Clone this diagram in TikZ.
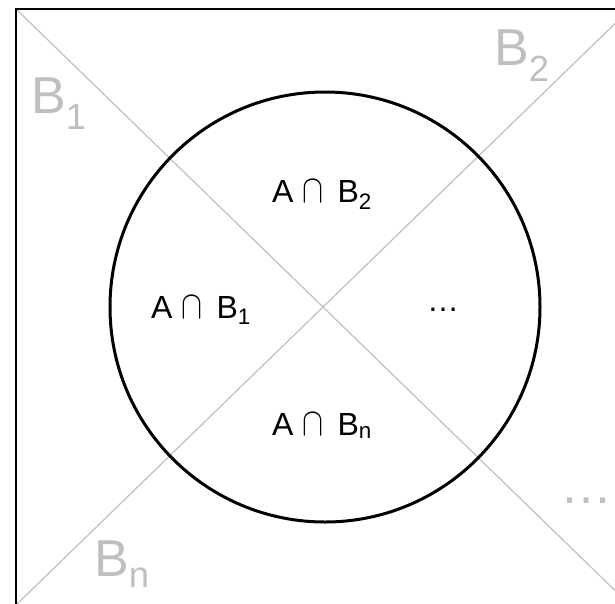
\documentclass[tikz,border=0pt]{standalone}
\usepackage{fontspec}
\setmainfont{Liberation Sans}
\newcommand{\capsym}{\hspace{9pt}\resizebox{21pt}{22pt}{$\cap$}\hspace{14pt}}
\begin{document}
\begin{tikzpicture}[x=1pt, y=-1pt,
        part/.style={black!25, line width=1.2pt},
        setA/.style={circle, draw, line width=3pt, minimum size=430pt, inner sep=0pt},
        inlabel/.style={anchor=base, inner sep=0pt, font=\fontsize{32}{38}\selectfont},
        outlabel/.style={anchor=base, inner sep=0pt, text=black!25, font=\fontsize{52}{60}\selectfont}
        ]
      \useasboundingbox (0,0) rectangle (615,603);
      \clip (0,0) rectangle (615,603);
      \coordinate (tl) at (16,9);
      \coordinate (tr) at (630,9);
      \coordinate (bl) at (16,605);
      \coordinate (br) at (630,605);
      \draw[part] (tl) -- (br);
      \draw[part] (bl) -- (tr);
      \draw[line width=2pt] (bl) -- (tl) -- (tr) -- (br) -- cycle;
      \node[setA] (A) at (325,307) {};
      \node[inlabel] (ab2) at (322,202) {A\capsym B\textsubscript{2}};
      \node[inlabel] (ab1) at (201,318) {A\capsym B\textsubscript{1}};
      \node[inlabel] (abn) at (322,435) {A\capsym B\textsubscript{n}};
      \node[inlabel] (abd) at (443,311) {…};
      \node[outlabel] (b1) at (59,113) {B\textsubscript{1}};
      \node[outlabel] (b2) at (522,65) {B\textsubscript{2}};
      \node[outlabel] (bn) at (122,576) {B\textsubscript{n}};
      \node[outlabel] (bd) at (586,503) {…};
    \end{tikzpicture}
\end{document}
